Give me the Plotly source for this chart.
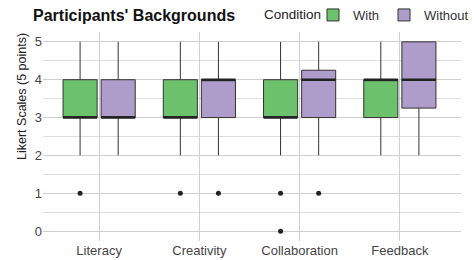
import plotly.graph_objects as go

categories = ["Literacy", "Creativity", "Collaboration", "Feedback"]
conditions = ["With", "Without"]

# box statistics per condition, per category
with_lower = [2, 2, 2, 2]
with_q1 = [3, 3, 3, 3]
with_median = [3, 3, 3, 4]
with_q3 = [4, 4, 4, 4]
with_upper = [5, 5, 5, 5]
with_outliers = [[1], [1], [1, 0], []]

without_lower = [2, 2, 2, 2]
without_q1 = [3, 3, 3, 3.25]
without_median = [3, 4, 4, 4]
without_q3 = [4, 4, 4.25, 5]
without_upper = [5, 5, 5, 5]
without_outliers = [[], [1], [1], []]

y_ticks = [0, 1, 2, 3, 4, 5]

colors = {"With": "#6CC26C", "Without": "#AE9CCB"}
offset = 0.19
bw = 0.34

stats = {
    "With": (with_lower, with_q1, with_median, with_q3, with_upper, with_outliers, -offset),
    "Without": (without_lower, without_q1, without_median, without_q3, without_upper, without_outliers, offset),
}

fig = go.Figure()
for cond in conditions:
    lo, q1, med, q3, up, outs, off = stats[cond]
    xs = [i + off for i in range(len(categories))]
    fig.add_trace(go.Box(
        name=cond, x=xs, q1=q1, median=med, q3=q3, lowerfence=lo, upperfence=up,
        width=bw, whiskerwidth=0, fillcolor=colors[cond],
        line=dict(color="#333333", width=1), boxpoints=False, showlegend=True,
    ))
for cond in conditions:
    lo, q1, med, q3, up, outs, off = stats[cond]
    mx, my = [], []
    for i, m in enumerate(med):
        mx += [i + off - bw / 2, i + off + bw / 2, None]
        my += [m, m, None]
    fig.add_trace(go.Scatter(x=mx, y=my, mode="lines", line=dict(color="#222222", width=2.5),
                             showlegend=False, hoverinfo="skip"))
    ox, oy = [], []
    for i, pts in enumerate(outs):
        for p in pts:
            ox.append(i + off)
            oy.append(p)
    fig.add_trace(go.Scatter(x=ox, y=oy, mode="markers", marker=dict(color="#222222", size=5),
                             showlegend=False, hoverinfo="skip"))

font = "Liberation Sans, Arial, sans-serif"
plot_top, plot_bottom = 32, 241
plot_left, plot_right = 43, 461
pw = plot_right - plot_left
ph = plot_bottom - plot_top
fig.update_layout(
    width=474, height=260,
    margin=dict(l=plot_left, r=474 - plot_right, t=plot_top, b=260 - plot_bottom),
    plot_bgcolor="white", paper_bgcolor="white",
    font=dict(family=font, size=13, color="#333333"),
    title=dict(text="<b>Participants' Backgrounds</b>", x=33 / 474, xanchor="left", xref="container",
               y=1 - 15 / 260, yanchor="middle", yref="container",
               font=dict(size=16, color="#111111", family=font)),
    legend=dict(orientation="h", x=1.0, xanchor="right", xref="container", y=1 - 15 / 260, yanchor="middle",
                yref="container", font=dict(size=13), bgcolor="rgba(0,0,0,0)"),
    xaxis=dict(range=[-0.56, 3.61], tickvals=list(range(len(categories))), ticktext=categories,
               showgrid=True, gridcolor="#CFCFCF", gridwidth=1, zeroline=False, ticks="",
               showline=False, automargin=False, tickfont=dict(size=13, color="#444444")),
    yaxis=dict(range=[-0.26, 5.26], tickvals=y_ticks, showgrid=True, gridcolor="#CFCFCF", gridwidth=1,
               minor=dict(dtick=0.5, showgrid=True, gridcolor="#DEDEDE", gridwidth=1),
               zeroline=False, ticks="", showline=False, automargin=False,
               tickfont=dict(size=13, color="#444444")),
    annotations=[
        dict(text="Likert Scales (5 points)", textangle=-90, xref="paper", yref="paper",
             x=0, xshift=-21, xanchor="center",
             y=(plot_bottom - 97) / ph, yanchor="middle",
             showarrow=False, font=dict(size=12.5, color="#222222")),
        dict(text="Condition", xref="paper", yref="paper",
             x=(262 - plot_left) / pw, xanchor="left",
             y=(plot_bottom - 15) / ph, yanchor="middle",
             showarrow=False, font=dict(size=13.5, color="#222222")),
    ],
)

fig.write_html("out.html", config={"displayModeBar": False},
               post_script="document.body.style.margin='0';")
